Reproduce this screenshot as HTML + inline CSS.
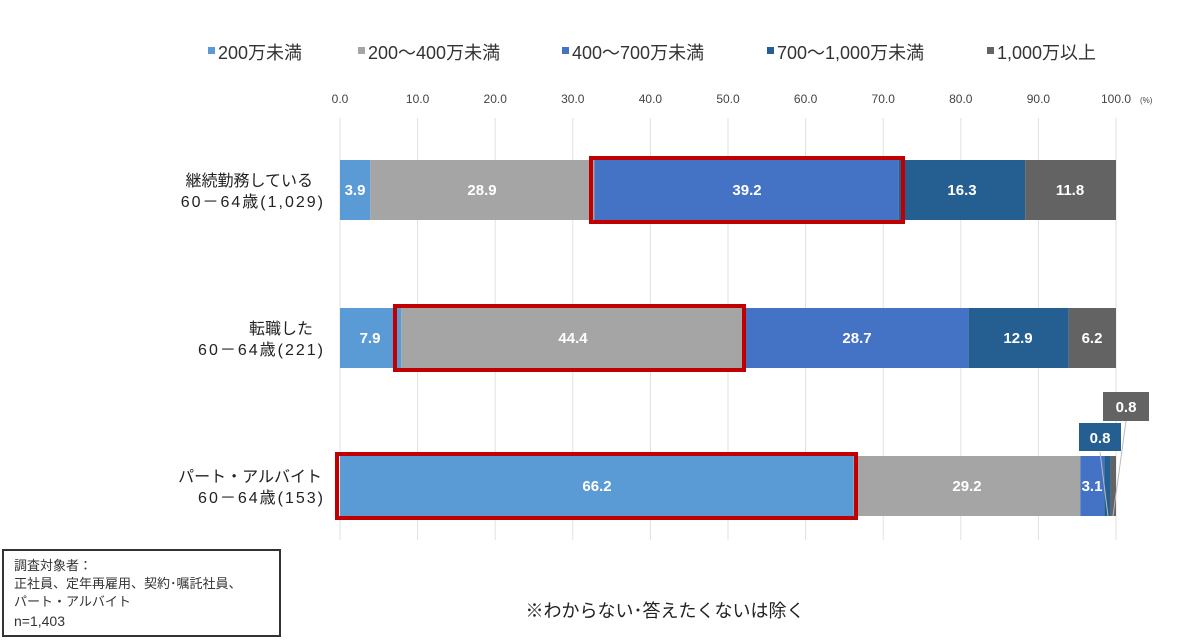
<!DOCTYPE html>
<html><head><meta charset="utf-8"><style>
html,body{margin:0;padding:0;background:#fff;}
svg{display:block;font-family:"Liberation Sans","Noto Sans CJK JP",sans-serif;}
</style></head><body>
<svg width="1188" height="641" viewBox="0 0 1188 641">
<g font-size="18" fill="#333">
<rect x="208" y="47" width="7" height="7" fill="#5b9bd5"/><text x="218" y="59">200万未満</text>
<rect x="358" y="47" width="7" height="7" fill="#a5a5a5"/><text x="368" y="59">200～400万未満</text>
<rect x="562" y="47" width="7" height="7" fill="#4472c4"/><text x="572" y="59">400～700万未満</text>
<rect x="767" y="47" width="7" height="7" fill="#255e91"/><text x="777" y="59">700～1,000万未満</text>
<rect x="987" y="47" width="7" height="7" fill="#636363"/><text x="997" y="59">1,000万以上</text>
</g>
<g font-size="12" fill="#444" text-anchor="middle">
<text x="340" y="103">0.0</text><text x="417.6" y="103">10.0</text><text x="495.2" y="103">20.0</text><text x="572.8" y="103">30.0</text><text x="650.4" y="103">40.0</text><text x="728" y="103">50.0</text><text x="805.6" y="103">60.0</text><text x="883.2" y="103">70.0</text><text x="960.8" y="103">80.0</text><text x="1038.4" y="103">90.0</text><text x="1116" y="103">100.0</text>
</g>
<text x="1140" y="103" font-size="8" fill="#444">(%)</text>
<g stroke="#e0e0e0" stroke-width="1">
<line x1="340" y1="118" x2="340" y2="540"/><line x1="417.6" y1="118" x2="417.6" y2="540"/><line x1="495.2" y1="118" x2="495.2" y2="540"/><line x1="572.8" y1="118" x2="572.8" y2="540"/><line x1="650.4" y1="118" x2="650.4" y2="540"/><line x1="728" y1="118" x2="728" y2="540"/><line x1="805.6" y1="118" x2="805.6" y2="540"/><line x1="883.2" y1="118" x2="883.2" y2="540"/><line x1="960.8" y1="118" x2="960.8" y2="540"/><line x1="1038.4" y1="118" x2="1038.4" y2="540"/><line x1="1116" y1="118" x2="1116" y2="540"/>
</g>
<rect x="340" y="160" width="30.3" height="60" fill="#5b9bd5"/>
<rect x="370.3" y="160" width="224.3" height="60" fill="#a5a5a5"/>
<rect x="594.5" y="160" width="304.2" height="60" fill="#4472c4"/>
<rect x="898.7" y="160" width="126.5" height="60" fill="#255e91"/>
<rect x="1025.2" y="160" width="90.8" height="60" fill="#636363"/>
<rect x="340" y="308" width="61.3" height="60" fill="#5b9bd5"/>
<rect x="401.3" y="308" width="344.5" height="60" fill="#a5a5a5"/>
<rect x="745.8" y="308" width="222.7" height="60" fill="#4472c4"/>
<rect x="968.6" y="308" width="100.1" height="60" fill="#255e91"/>
<rect x="1068.7" y="308" width="47.3" height="60" fill="#636363"/>
<rect x="340" y="456" width="513.7" height="60" fill="#5b9bd5"/>
<rect x="853.7" y="456" width="226.6" height="60" fill="#a5a5a5"/>
<rect x="1080.3" y="456" width="24.1" height="60" fill="#4472c4"/>
<rect x="1104.4" y="456" width="6.2" height="60" fill="#255e91"/>
<rect x="1110.6" y="456" width="5.4" height="60" fill="#636363"/>
<g fill="none" stroke="#c00000" stroke-width="4">
<rect x="591" y="158" width="312" height="64"/>
<rect x="395" y="306" width="349" height="64"/>
<rect x="337" y="454" width="519" height="64"/>
</g>
<g font-size="15" font-weight="bold" fill="#fff" text-anchor="middle">
<text x="355" y="195">3.9</text><text x="482" y="195">28.9</text><text x="747" y="195">39.2</text><text x="962" y="195">16.3</text><text x="1070" y="195">11.8</text>
<text x="370" y="343">7.9</text><text x="573" y="343">44.4</text><text x="857" y="343">28.7</text><text x="1018" y="343">12.9</text><text x="1092" y="343">6.2</text>
<text x="597" y="491">66.2</text><text x="967" y="491">29.2</text><text x="1092" y="491">3.1</text>
</g>
<line x1="1100" y1="452" x2="1108" y2="516" stroke="#bbb" stroke-width="1"/>
<line x1="1126" y1="421" x2="1113" y2="516" stroke="#bbb" stroke-width="1"/>
<rect x="1079" y="423" width="42" height="28" fill="#255e91"/>
<text x="1100" y="443" font-size="15" font-weight="bold" fill="#fff" text-anchor="middle">0.8</text>
<rect x="1103" y="392" width="46" height="29" fill="#636363"/>
<text x="1126" y="412" font-size="15" font-weight="bold" fill="#fff" text-anchor="middle">0.8</text>
<g font-size="16" fill="#222" text-anchor="end">
<text x="313" y="186">継続勤務している</text><text x="325" y="207" letter-spacing="2">60－64歳(1,029)</text>
<text x="313" y="334">転職した</text><text x="325" y="355" letter-spacing="2">60－64歳(221)</text>
<text x="322" y="482">パート・アルバイト</text><text x="325" y="503" letter-spacing="2">60－64歳(153)</text>
</g>
<rect x="3" y="550" width="277" height="86" fill="#fff" stroke="#333" stroke-width="2"/>
<g font-size="13" fill="#333">
<text x="14" y="570">調査対象者：</text>
<text x="14" y="588">正社員、定年再雇用、契約･嘱託社員、</text>
<text x="14" y="606">パート・アルバイト</text>
<text x="14" y="626" font-size="14">n=1,403</text>
</g>
<text x="665" y="617" font-size="18" fill="#222" text-anchor="middle">※わからない･答えたくないは除く</text>
</svg>
</body></html>
